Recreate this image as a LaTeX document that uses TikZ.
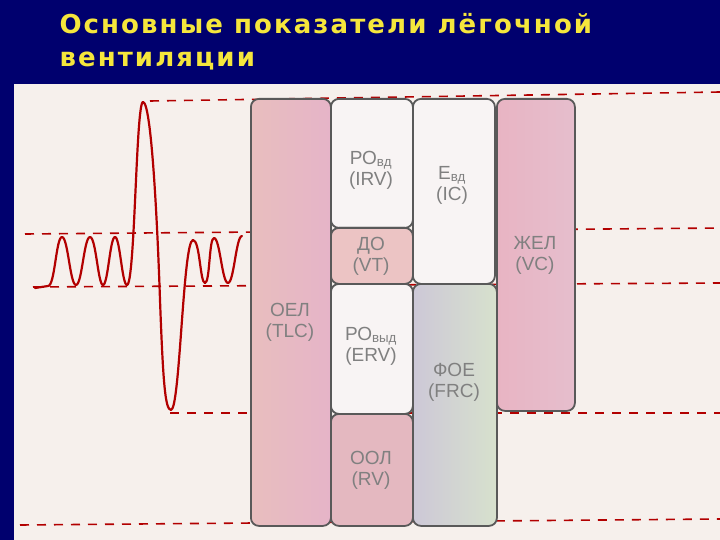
\documentclass[tikz,border=0pt]{standalone}
\usepackage{fontspec}
\setmainfont{Liberation Sans}
\newfontfamily\titlefont[LetterSpace=8]{DejaVu Sans}
\begin{document}
\begin{tikzpicture}[x=1pt,y=-1pt,
  box/.style={draw=black!65,line width=1.8pt,rounded corners=8pt},
  lab/.style={text=black!50,font=\fontsize{19}{21}\selectfont,align=center},
  redline/.style={draw=red!70!black,line width=1.6pt,dash pattern=on 9pt off 8pt},
  curve/.style={draw=red!70!black,line width=2.2pt,line cap=round,line join=round}]
\useasboundingbox (0,0) rectangle (720,540);
\fill[fill={rgb,255:red,0;green,0;blue,110}] (0,0) rectangle (720,540);
\fill[fill={rgb,255:red,246;green,240;blue,236}] (14,84) rectangle (720,540);
\node[anchor=west,text={rgb,255:red,245;green,230;blue,60},font=\titlefont\bfseries\fontsize{26}{33}\selectfont,align=left] (title) at (56,42) {Основные показатели лёгочной\\вентиляции};
% dashed lines
\coordinate (d1a) at (150,101); \coordinate (d1b) at (720,92);
\coordinate (d2a) at (25,234); \coordinate (d2b) at (720,228);
\coordinate (d3a) at (33,287); \coordinate (d3b) at (720,283);
\coordinate (d4a) at (170,413); \coordinate (d4b) at (720,413);
\coordinate (d5a) at (20,525); \coordinate (d5b) at (720,519);
\foreach \a/\b in {d1a/d1b,d2a/d2b,d3a/d3b,d4a/d4b,d5a/d5b} \draw[redline] (\a) -- (\b);
% boxes
\node[box,minimum width=80pt,minimum height=427pt,left color={rgb,255:red,232;green,190;blue,190},right color={rgb,255:red,230;green,180;blue,200},anchor=north west] (tlc) at (250,98) {};
\node[lab] at (290,322) {ОЕЛ\\(TLC)};
\node[box,minimum width=82pt,minimum height=129pt,fill={rgb,255:red,248;green,244;blue,244},anchor=north west] (irv) at (330,98) {};
\node[lab] at (371,170) {РО\textsubscript{вд}\\(IRV)};
\node[box,minimum width=82pt,minimum height=56pt,fill={rgb,255:red,236;green,196;blue,196},anchor=north west] (vt) at (330,227) {};
\node[lab] at (371,256) {ДО\\(VT)};
\node[box,minimum width=82pt,minimum height=130pt,fill={rgb,255:red,248;green,244;blue,244},anchor=north west] (erv) at (330,283) {};
\node[lab] at (371,346) {РО\textsubscript{выд}\\(ERV)};
\node[box,minimum width=82pt,minimum height=112pt,fill={rgb,255:red,228;green,184;blue,192},anchor=north west] (rv) at (330,413) {};
\node[lab] at (371,470) {ООЛ\\(RV)};
\node[box,minimum width=82pt,minimum height=185pt,fill={rgb,255:red,248;green,244;blue,244},anchor=north west] (ic) at (412,98) {};
\node[lab] at (452,185) {Е\textsubscript{вд}\\(IC)};
\node[box,minimum width=84pt,minimum height=242pt,left color={rgb,255:red,205;green,200;blue,215},right color={rgb,255:red,215;green,225;blue,205},anchor=north west] (frc) at (412,283) {};
\node[lab] at (454,382) {ФОЕ\\(FRC)};
\node[box,minimum width=78pt,minimum height=312pt,left color={rgb,255:red,232;green,180;blue,195},right color={rgb,255:red,230;green,190;blue,205},anchor=north west] (vc) at (496,98) {};
\node[lab] at (535,255) {ЖЕЛ\\(VC)};
% spirogram
\draw[curve] (35,288) -- (48,286) .. controls (55,286) and (56,237) .. (62,237)
 .. controls (68,237) and (70,285) .. (76,285)
 .. controls (82,285) and (84,237) .. (90,237)
 .. controls (96,237) and (98,285) .. (103,285)
 .. controls (108,285) and (110,237) .. (115,237)
 .. controls (120,237) and (122,285) .. (127,285)
 .. controls (135,285) and (136,102) .. (143,102)
 .. controls (152,102) and (158,240) .. (160,300)
 .. controls (163,380) and (165,410) .. (171,410)
 .. controls (180,410) and (183,240) .. (193,240)
 .. controls (200,240) and (200,283) .. (205,283)
 .. controls (210,283) and (209,238) .. (214,238)
 .. controls (220,238) and (222,283) .. (228,283)
 .. controls (234,283) and (236,236) .. (242,236);
\end{tikzpicture}
\end{document}
